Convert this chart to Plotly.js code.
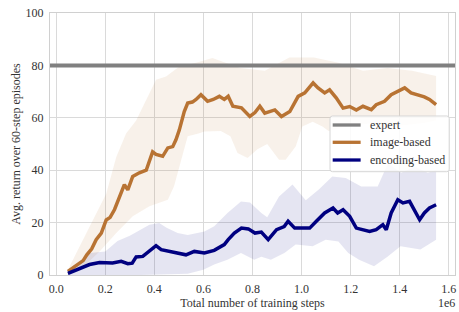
<!DOCTYPE html>
<html>
<head>
<meta charset="utf-8">
<script src="https://cdn.plot.ly/plotly-3.0.1.min.js"></script>
<style>html,body{margin:0;padding:0;background:#fff;}#chart{width:459px;height:312px;}</style>
</head>
<body>
<div id="chart"></div>
<script>
// x values in units of 1e6 training steps
const xRange = [-0.025, 1.625];
const expertValue = 80;

const imgX = [0.048,0.07,0.095,0.11,0.125,0.145,0.163,0.184,0.204,0.22,0.238,0.258,0.278,0.292,0.312,0.339,0.367,0.393,0.407,0.434,0.455,0.475,0.488,0.502,0.522,0.536,0.555,0.57,0.59,0.617,0.64,0.665,0.685,0.701,0.72,0.755,0.789,0.81,0.83,0.85,0.87,0.891,0.918,0.952,0.986,1.013,1.047,1.067,1.094,1.114,1.141,1.169,1.196,1.223,1.25,1.284,1.304,1.338,1.365,1.392,1.42,1.446,1.473,1.5,1.521,1.548];
const imgY = [1.4,2.8,4.6,5.5,7.7,10,13.5,16,21,22,25,30,34.5,32.5,37.6,39,40,47,46,45.3,48.5,49,51.6,55.4,62.4,65.6,66,67,68.8,66.3,67,68.2,67,68.2,64.4,63.8,60.5,62,64.4,61.8,62.5,63,60.5,62.4,68.2,69.5,73.3,71.4,69.5,70.7,67.6,63.7,64.3,63,64.4,63.1,65,66.3,68.8,70,71.4,69.5,68.8,68,67,65];

const imgUpX = [0.048,0.109,0.163,0.204,0.245,0.285,0.326,0.367,0.407,0.448,0.502,0.57,0.637,0.69,0.75,0.85,0.95,1.05,1.15,1.25,1.35,1.45,1.548];
const imgUpY = [2,13.5,23.7,31,45,54,59,67,74.5,75.8,79.6,81,82.8,81,79,78,83,83,81,78,79,78,76];
const imgLoX = [0.048,0.109,0.177,0.245,0.312,0.38,0.42,0.455,0.48,0.509,0.536,0.58,0.604,0.671,0.71,0.739,0.78,0.82,0.86,0.908,0.935,0.976,1.003,1.045,1.085,1.11,1.2,1.3,1.4,1.5,1.548];
const imgLoY = [0,3,9,16,22.4,26.2,27.6,28.7,33.8,44,53,54,54.8,55,53,46.6,44.7,48,50,44,44,49,56.7,58.5,56.7,55,57,58,57,58,59];

const encX = [0.048,0.075,0.109,0.136,0.177,0.204,0.23,0.265,0.292,0.31,0.326,0.353,0.38,0.407,0.428,0.468,0.495,0.529,0.563,0.604,0.644,0.685,0.701,0.726,0.755,0.783,0.81,0.836,0.864,0.898,0.929,0.945,0.972,1.006,1.033,1.06,1.094,1.128,1.147,1.169,1.196,1.223,1.243,1.277,1.304,1.331,1.345,1.365,1.392,1.413,1.44,1.46,1.481,1.5,1.521,1.548];
const encY = [0.6,1.6,2.7,4.0,4.8,4.6,4.6,5.2,4.3,4.5,6.9,7.1,9,11.2,9.7,9,8.4,7.7,9,8.4,9.4,11.6,13.5,16,17.9,17.6,16,16.4,13.5,17.3,18.5,20.5,17.9,17.9,17.9,20.5,23.7,25.6,23.7,24.9,22.4,17.9,17.3,16.6,17.3,19.2,17.3,23.7,28.7,27.5,28.1,24.9,21.1,23.7,25.6,26.8];

const encUpX = [0.048,0.1,0.136,0.2,0.25,0.3,0.38,0.42,0.45,0.495,0.536,0.604,0.644,0.698,0.753,0.79,0.836,0.86,0.908,0.963,1.017,1.07,1.125,1.18,1.243,1.31,1.352,1.406,1.46,1.514,1.548];
const encUpY = [1,5,8.4,9,13,15,19.2,19.8,18,16,15.3,16.6,18.6,23.7,28.1,27.7,23.7,22,30,34.5,28.5,32.6,37.6,37,33.8,33.8,42.7,39,41.4,39,40];
const encLoX = [0.048,0.2,0.35,0.45,0.536,0.6,0.644,0.698,0.753,0.807,0.836,0.875,0.93,0.976,1.045,1.098,1.15,1.19,1.234,1.295,1.35,1.403,1.484,1.548];
const encLoY = [0,0,0,0.3,0.5,2,4,5.8,8.4,5.8,7,5.8,8.4,11.6,11,13.5,12.8,8.4,5.8,3.3,7,11,9.7,13.5];

const xTicks = [0, 0.2, 0.4, 0.6, 0.8, 1.0, 1.2, 1.4, 1.6];
const yTicks = [0, 20, 40, 60, 80, 100];
const seriesNames = ['expert', 'image-based', 'encoding-based'];
const seriesColors = ['#808080', '#b87333', '#000080'];

const FONT = 'Liberation Serif';
const FS = 12;

function band(upX, upY, loX, loY, color) {
  return {
    x: upX.concat(loX.slice().reverse()),
    y: upY.concat(loY.slice().reverse()),
    fill: 'toself', fillcolor: color, mode: 'lines',
    line: {width: 0}, showlegend: false, hoverinfo: 'skip'
  };
}

const traces = [
  band(imgUpX, imgUpY, imgLoX, imgLoY, 'rgba(184,115,51,0.1)'),
  band(encUpX, encUpY, encLoX, encLoY, 'rgba(0,0,128,0.1)'),
  {x: xRange, y: [expertValue, expertValue], mode: 'lines', name: seriesNames[0], line: {color: seriesColors[0], width: 4}},
  {x: imgX, y: imgY, mode: 'lines', name: seriesNames[1], line: {color: seriesColors[1], width: 3.5}},
  {x: encX, y: encY, mode: 'lines', name: seriesNames[2], line: {color: seriesColors[2], width: 3.5}}
];

// manual legend (matplotlib style box)
const lgX0 = 0.6914, lgX1 = 0.9859, lgY0 = 0.3943, lgY1 = 0.6069;
const rx = 2.5 / 405, ry = 2.5 / 262;
const boxPath = `M ${lgX0 + rx} ${lgY1} L ${lgX1 - rx} ${lgY1} Q ${lgX1} ${lgY1} ${lgX1} ${lgY1 - ry} ` +
  `L ${lgX1} ${lgY0 + ry} Q ${lgX1} ${lgY0} ${lgX1 - rx} ${lgY0} L ${lgX0 + rx} ${lgY0} ` +
  `Q ${lgX0} ${lgY0} ${lgX0} ${lgY0 + ry} L ${lgX0} ${lgY1 - ry} Q ${lgX0} ${lgY1} ${lgX0 + rx} ${lgY1} Z`;
const rowY = [0.5725, 0.5065, 0.4389];
const shapes = [{
  type: 'path', path: boxPath, xref: 'paper', yref: 'paper',
  fillcolor: 'rgba(255,255,255,0.85)', line: {color: '#d6d6d6', width: 1}, layer: 'above'
}];
const annotations = [];
seriesNames.forEach((n, i) => {
  shapes.push({type: 'line', xref: 'paper', yref: 'paper', x0: 0.698, x1: 0.767, y0: rowY[i], y1: rowY[i],
    line: {color: seriesColors[i], width: 3.3}, layer: 'above'});
  annotations.push({text: n, xref: 'paper', yref: 'paper', x: 0.784, y: rowY[i], xanchor: 'left', yanchor: 'middle',
    showarrow: false, font: {family: FONT, size: FS, color: '#333'}});
});
annotations.push({
  text: '1e6', xref: 'paper', yref: 'paper', x: 1.004, y: -0.107,
  xanchor: 'right', yanchor: 'middle', showarrow: false,
  font: {family: FONT, size: FS, color: '#333'}
});

const layout = {
  width: 459, height: 312,
  margin: {l: 50, r: 4, t: 13, b: 37},
  paper_bgcolor: '#fff', plot_bgcolor: '#fff',
  font: {family: FONT, size: FS, color: '#333'},
  xaxis: {
    range: xRange, tickvals: xTicks, ticktext: xTicks.map(v => v.toFixed(1)),
    showgrid: true, gridcolor: '#dadada', gridwidth: 1, zeroline: false,
    showline: true, mirror: true, linecolor: '#d0d0d0', linewidth: 1, ticks: '',
    tickfont: {family: FONT, size: FS, color: '#333'}, ticklabelstandoff: 3,
    title: {text: 'Total number of training steps', font: {family: FONT, size: FS, color: '#333'}, standoff: 1},
    automargin: false
  },
  yaxis: {
    range: [0, 100], tickvals: yTicks,
    showgrid: true, gridcolor: '#dadada', gridwidth: 1, zeroline: false,
    showline: true, mirror: true, linecolor: '#d0d0d0', linewidth: 1, ticks: '',
    tickfont: {family: FONT, size: FS, color: '#333'}, ticklabelstandoff: 3,
    title: {text: 'Avg. return over 60-step episodes', font: {family: FONT, size: FS, color: '#333'}, standoff: 2},
    automargin: false
  },
  shapes: shapes,
  annotations: annotations,
  showlegend: false
};

Plotly.newPlot('chart', traces, layout, {displayModeBar: false, staticPlot: true});
</script>
</body>
</html>
